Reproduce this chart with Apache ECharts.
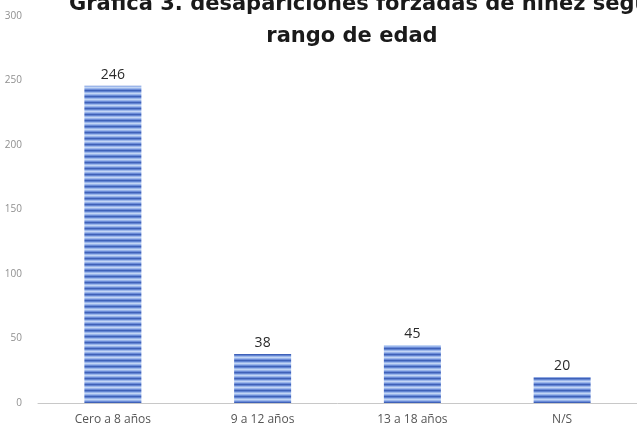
<!DOCTYPE html>
<html>
<head>
<meta charset="utf-8">
<script src="https://cdn.jsdelivr.net/npm/echarts@6/dist/echarts.min.js"></script>
<style>
  html, body { margin: 0; padding: 0; background: #fff; }
  #graph { width: 637px; height: 431px; }
</style>
</head>
<body>
<div id="graph"></div>
<script>
"use strict"

const categories = ["Cero a 8 años", "9 a 12 años", "13 a 18 años", "N/S"];
const values = [246, 38, 45, 20];
const yTicks = [0, 50, 100, 150, 200, 250, 300];
const titleLine1 = "Grafica 3. desapariciones forzadas de niñez según";
const titleLine2 = "rango de edad";

// striped fill like the office chart
function stripes()
{
    const cv = document.createElement("canvas");
    cv.width = 4; cv.height = 6;
    const ctx = cv.getContext("2d");
    const rows = ["#3f61b8", "#6284d2", "#9bb6ea", "#c2d5f5", "#9bb6ea", "#6a8bd8"];
    rows.forEach((c, i) =>
    {
        ctx.fillStyle = c;
        ctx.fillRect(0, i, 4, 1);
    });
    return cv;
}

const myChart = echarts.init(document.getElementById("graph"), null, { renderer: "canvas" });

myChart.setOption({
    animation: false,
    title: [
        {
            text: titleLine1,
            left: 64, top: -11,
            textStyle: { fontFamily: "DejaVu Sans", fontWeight: "bold", fontSize: 21, color: "#1a1a1a" }
        },
        {
            text: titleLine2,
            left: 347, top: 21, textAlign: "center",
            textStyle: { fontFamily: "DejaVu Sans", fontWeight: "bold", fontSize: 21, color: "#1a1a1a" }
        }
    ],
    grid: { left: 38, right: -2, top: 16, bottom: 28 },
    xAxis: {
        type: "category",
        data: categories,
        axisTick: { show: false },
        axisLine: { lineStyle: { color: "#c8c8c8", width: 1 } },
        axisLabel: { color: "#555", fontSize: 12, fontFamily: "Open Sans", margin: 11 }
    },
    yAxis: {
        type: "value",
        min: yTicks[0], max: yTicks[yTicks.length - 1], interval: 50,
        splitLine: { show: false },
        axisLine: { show: false },
        axisTick: { show: false },
        axisLabel: { color: "#8f8f8f", fontSize: 10, fontFamily: "Open Sans", margin: 16 }
    },
    series: [{
        type: "bar",
        data: values,
        barWidth: 57,
        itemStyle: { color: { image: stripes(), repeat: "repeat" } },
        label: {
            show: true, position: "top", distance: 4,
            color: "#2a2a2a", fontSize: 14, fontFamily: "Open Sans"
        }
    }]
});
</script>
</body>
</html>
